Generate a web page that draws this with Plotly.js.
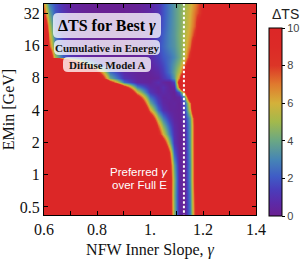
<!DOCTYPE html>
<html><head><meta charset="utf-8">
<script src="https://cdn.plot.ly/plotly-3.0.1.min.js"></script>
<style>html,body{margin:0;padding:0;background:#fff;}#chart{width:306px;height:268px;}</style>
</head><body><div id="chart"></div>
<script>
// NFW inner slope grid (columns)
const gammaGrid = [0.60,0.62,0.64,0.67,0.70,0.75,0.80,0.85,0.90,0.95,1.00,1.03,1.05,1.07,1.09,1.11,1.13,1.15,1.17,1.19,1.21,1.25,1.30,1.40];
// Minimum energy grid in GeV (rows, ascending)
const eMinGrid = [0.43,0.646,0.89,1.23,1.59,1.97,2.39,2.84,3.37,4.0,4.65,5.28,5.88,6.55,7.29,8.0,9.0,10.7,12.6,15.8,19.9,24.5,32,38.8];
// Delta TS relative to best gamma, one row per EMin
const deltaTS = [
 [100,95,90,85,80,76,70,62,54,44,34,26,20,11,4.5,0.6,0,2.8,8.5,18,26,36,46,58],
 [100,95,90,85,80,76,70,62,54,44,34,26,19,10.5,4.3,0.6,0,3,9,18,26,36,46,58],
 [100,95,90,85,80,76,70,62,54,44,34,25,18,10.5,4.5,0.6,0,3.3,9.5,18,26,36,46,58],
 [100,95,90,85,80,76,70,62,54,44,33,24,17,10,3.8,0.5,0,3.3,9.5,18,26,36,46,58],
 [100,95,90,85,80,76,70,62,52,42,30,22,15,8.5,2.2,0.3,0.1,3.5,9.5,18,26,36,46,58],
 [100,95,90,85,80,76,70,60,50,40,28,17,10.5,5,1.1,0.2,0.2,3.6,9.5,18,26,36,46,58],
 [100,95,90,85,80,75,68,56,44,32,21,9.5,6,3,0.9,0.2,0.3,3.6,9.5,18,26,36,46,58],
 [100,95,90,85,80,74,64,52,42,30,15,7.5,4.5,2.2,0.7,0.2,0.4,3.6,9.5,18,26,36,46,58],
 [100,95,90,85,80,72,60,48,36,24,11,5,2.8,1.2,0.4,0.2,0.7,3.8,10,18,26,36,46,58],
 [95,90,85,80,75,66,56,44,32,18,6.5,2.5,1,0.4,0.3,0.2,1.1,6,14,22,30,40,50,62],
 [90,85,80,75,70,62,50,40,28,14,4,1.5,0.6,0.3,0.4,0.2,1.4,7,16,24,32,42,52,65],
 [85,80,75,70,65,56,46,36,22,10,2.5,1.0,0.4,0.5,0.2,0.4,3,12,20,28,36,46,56,68],
 [80,75,70,65,60,50,40,30,16,6,1.2,0.4,0.7,0.4,0.2,2,7,15,24,32,40,50,60,72],
 [75,70,65,60,55,45,32,20,10,3,0.7,0.4,0.9,0.3,0.5,8,18,26,34,42,50,60,70,82],
 [70,65,60,55,50,35,20,9.5,2.5,0.5,0.3,0.9,0.4,0.2,1.5,10,18,26,34,42,50,60,70,82],
 [65,60,55,50,45,28,13,4,1.1,0.4,0.2,0.4,1.1,1.8,3.5,7,14,22,30,38,46,56,66,80],
 [60,55,50,45,38,22,9,2.5,0.7,0.3,0.3,0.7,1.4,2.5,3.8,5.5,9,15,22,29,36,46,56,68],
 [50,45,40,30,18,6.5,2,0.7,0.3,0.2,0.5,1.1,1.7,2.6,3.5,4.6,6.8,11,18,25,32,42,52,65],
 [30,12,5,2.2,1.1,0.5,0.3,0.2,0.2,0.2,0.7,1.4,2.0,2.5,3.1,4,5.3,8.8,13,19,26,36,46,58],
 [20,8,3,1.4,0.8,0.4,0.2,0.1,0.1,0.3,0.9,1.7,2.3,3,3.4,4.2,5.2,7.2,11,16,22,32,42,55],
 [15,6.5,2.6,1.2,0.6,0.2,0.1,0.1,0.1,0.2,0.8,1.5,2.2,3,3.5,4.3,5.2,6.5,8.5,13,18,28,38,50],
 [12,5.5,2.4,1.2,0.6,0.2,0.1,0.1,0.1,0.2,0.7,1.3,2.0,2.9,3.5,4.2,5,6.2,7.6,11,16,26,36,48],
 [8,4,2,1.1,0.5,0.2,0.1,0.1,0.1,0.2,0.6,1.1,1.9,2.8,3.5,4.2,5,6,7.2,8.2,12,22,32,45],
 [6.5,3,1.8,0.9,0.4,0.2,0.1,0.1,0.1,0.2,0.6,1.1,1.9,2.8,3.5,4.2,4.8,5.8,6.8,8,11,20,30,40]
];
const preferredGamma = 1.128;
const lineEMin = [0.3, 50];
const xTickVals = [0.6,0.7,0.8,0.9,1.0,1.1,1.2,1.3,1.4];
const xTickText = ['0.6','','0.8','','1.','','1.2','','1.4'];
const yTickVals = [0.5,1,2,4,8,16,32];
const yTickText = ['0.5','1','2','4','8','16','32'];
const cbTickVals = [0,2,4,6,8,10];

const colorscale = [[0,'#6a2090'],[0.07,'#5c2aa8'],[0.14,'#4a3dbb'],[0.21,'#3f5cc6'],[0.3,'#4685b5'],[0.4,'#6aa784'],[0.5,'#a2b94c'],[0.6,'#d4b13a'],[0.7,'#e07a2e'],[0.8,'#dc3527'],[0.9,'#dc2a27'],[1,'#dc2727']];

const L=44,R=50,T=4,B=53,W=306,H=268;
const PW=W-L-R, PH=H-T-B;
const px=x=>(x-L)/PW, py=y=>(T+PH-y)/PH;
function rrect(x0,x1,y0,y1,r){
  const a=px(x0),b=px(x1),top=py(y0),bot=py(y1),rx=r/PW,ry=r/PH;
  return `M${a+rx},${top} L${b-rx},${top} Q${b},${top} ${b},${top-ry} L${b},${bot+ry} Q${b},${bot} ${b-rx},${bot} L${a+rx},${bot} Q${a},${bot} ${a},${bot+ry} L${a},${top-ry} Q${a},${top} ${a+rx},${top} Z`;
}
const boxStyle={type:'path',xref:'paper',yref:'paper',fillcolor:'rgba(255,255,255,0.76)',line:{width:0},layer:'above'};
const serif='Liberation Serif, Times New Roman, serif';
const sans='Liberation Sans, Arial, sans-serif';

const traces=[
 {type:'heatmap',x:gammaGrid,y:eMinGrid,z:deltaTS,zmin:0,zmax:10,zsmooth:'best',colorscale:colorscale,
  hoverinfo:'skip',
  colorbar:{x:px(269),xanchor:'left',xpad:0,ypad:0,thickness:13,thicknessmode:'pixels',len:188/PH,lenmode:'fraction',
   y:py(216),yanchor:'bottom',outlinecolor:'#000',outlinewidth:1,tickvals:cbTickVals,ticks:'outside',ticklen:3,tickcolor:'#000',
   tickfont:{family:sans,size:11,color:'#444'}}},
 {type:'scatter',mode:'lines',x:[preferredGamma,preferredGamma],y:lineEMin,line:{color:'#fff',width:2,dash:'2.5px,2px'},hoverinfo:'skip',showlegend:false}
];
const layout={
 width:W,height:H,margin:{l:L,r:R,t:T,b:B},paper_bgcolor:'#fff',plot_bgcolor:'#fff',showlegend:false,
 xaxis:{range:[0.6,1.4],tickvals:xTickVals,ticktext:xTickText,ticks:'inside',ticklen:4,tickcolor:'#000',showline:true,linecolor:'#000',linewidth:1,mirror:'ticks',showgrid:false,zeroline:false,
  tickfont:{family:serif,size:16,color:'#111'},title:{text:'NFW Inner Slope, <i>γ</i>',font:{family:serif,size:16,color:'#111'},standoff:6}},
 yaxis:{type:'log',range:[Math.log10(0.421),Math.log10(38.9)],tickvals:yTickVals,ticktext:yTickText,ticks:'inside',ticklen:4,tickcolor:'#000',showline:true,linecolor:'#000',linewidth:1,mirror:'ticks',showgrid:false,zeroline:false,
  tickfont:{family:serif,size:16,color:'#111'},title:{text:'EMin [GeV]',font:{family:serif,size:16,color:'#111'},standoff:4}},
 shapes:[
  Object.assign({path:rrect(53,161,13,38,5)},boxStyle),
  Object.assign({path:rrect(54,160,40,55,5)},boxStyle),
  Object.assign({path:rrect(63,151,57,72,5)},boxStyle)
 ],
 annotations:[
  {text:'<b>ΔTS for Best <i>γ</i></b>',x:px(107),y:py(26),xref:'paper',yref:'paper',showarrow:false,xanchor:'center',yanchor:'middle',font:{family:serif,size:16,color:'#000'}},
  {text:'<b>Cumulative in Energy</b>',x:px(107),y:py(48),xref:'paper',yref:'paper',showarrow:false,xanchor:'center',yanchor:'middle',font:{family:serif,size:11,color:'#111'}},
  {text:'<b>Diffuse Model A</b>',x:px(107),y:py(65),xref:'paper',yref:'paper',showarrow:false,xanchor:'center',yanchor:'middle',font:{family:serif,size:11,color:'#111'}},
  {text:'Preferred <i>γ</i>',x:px(139),y:py(172),xref:'paper',yref:'paper',showarrow:false,xanchor:'center',yanchor:'middle',font:{family:sans,size:11.5,color:'#fff'}},
  {text:'over Full E',x:px(139),y:py(185),xref:'paper',yref:'paper',showarrow:false,xanchor:'center',yanchor:'middle',font:{family:sans,size:11.5,color:'#fff'}},
  {text:'ΔTS',x:px(285),y:py(14),xref:'paper',yref:'paper',showarrow:false,xanchor:'center',yanchor:'middle',font:{family:sans,size:14,color:'#222'}}
 ]
};
Plotly.newPlot('chart',traces,layout,{staticPlot:true,displayModeBar:false});
</script></body></html>
